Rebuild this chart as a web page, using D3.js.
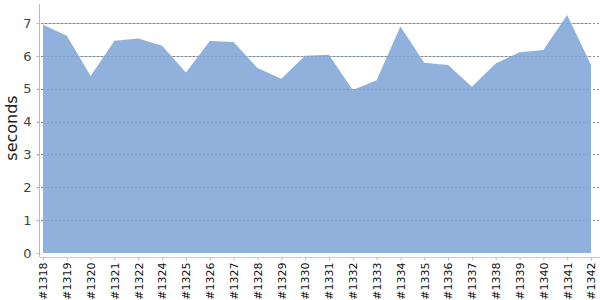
<!DOCTYPE html>
<html>
<head>
<meta charset="utf-8">
<script src="https://cdn.jsdelivr.net/npm/d3@7"></script>
<style>
  body { margin: 0; background: #fff; }
  svg { display: block; font-family: "DejaVu Sans", sans-serif; }
</style>
</head>
<body>
<div id="chart"></div>
<script>
// build ids along the x axis
const builds = ["#1318", "#1319", "#1320", "#1321", "#1322", "#1324", "#1325", "#1326",
    "#1327", "#1328", "#1329", "#1330", "#1331", "#1332", "#1333", "#1334",
    "#1335", "#1336", "#1337", "#1338", "#1339", "#1340", "#1341", "#1342"];

// duration per build, seconds
const seconds = [6.95, 6.61, 5.39, 6.46, 6.53, 6.31, 5.49, 6.45,
    6.42, 5.63, 5.30, 6.00, 6.03, 4.96, 5.26, 6.89,
    5.79, 5.72, 5.06, 5.77, 6.11, 6.18, 7.24, 5.72];

const yTicks = [0, 1, 2, 3, 4, 5, 6, 7];

document.addEventListener('DOMContentLoaded', function() {
    const width = 600, height = 300;
    const margin = { left: 40, right: 9, top: 4, bottom: 47 };

    const svg = d3.select('#chart').append('svg')
        .attr('width', width)
        .attr('height', height);

    const x = d3.scalePoint()
        .domain(builds)
        .range([43, width - margin.right]);

    const y = d3.scaleLinear()
        .domain([0, 7])
        .range([253, 23]);

    // dashed grid lines
    svg.append('g')
        .selectAll('line')
        .data(yTicks.slice(1))
        .enter().append('line')
        .attr('x1', 37)
        .attr('x2', width)
        .attr('y1', d => Math.round(y(d)) + 0.5)
        .attr('y2', d => Math.round(y(d)) + 0.5)
        .attr('stroke', '#888')
        .attr('stroke-dasharray', '2,2');

    const area = d3.area()
        .x((d, i) => x(builds[i]))
        .y0(y(0))
        .y1(d => y(d));

    svg.append('path')
        .datum(seconds)
        .attr('d', area)
        .attr('fill', '#8fb1db');

    // redraw grid faintly over the area
    svg.append('g')
        .selectAll('line')
        .data(yTicks.slice(1))
        .enter().append('line')
        .attr('x1', 43)
        .attr('x2', x(builds[builds.length - 1]))
        .attr('y1', d => Math.round(y(d)) + 0.5)
        .attr('y2', d => Math.round(y(d)) + 0.5)
        .attr('stroke', '#7a96bb')
        .attr('stroke-dasharray', '2,2')
        .attr('opacity', 0.6);

    // y axis
    const yAxis = svg.append('g')
        .attr('transform', 'translate(39.5,0)')
        .call(d3.axisLeft(y).tickValues(yTicks).tickFormat(d3.format('d')).tickSize(3).tickPadding(5));
    yAxis.select('.domain').attr('stroke', '#bbb').attr('d', `M0,${margin.top}V${height - margin.bottom + 4}`);
    yAxis.selectAll('.tick line').attr('stroke', '#bbb');
    yAxis.selectAll('.tick text')
        .attr('fill', '#444')
        .style('font-size', '13px')
        .style('font-family', '"DejaVu Sans", sans-serif');

    // x axis
    const xAxis = svg.append('g')
        .attr('transform', 'translate(0,257.5)')
        .call(d3.axisBottom(x).tickSize(3).tickSizeOuter(0));
    xAxis.select('.domain').attr('stroke', '#ccc').attr('d', `M40,0H${width}`);
    xAxis.selectAll('.tick line').attr('stroke', '#bbb');
    xAxis.selectAll('.tick text')
        .attr('fill', '#111')
        .style('font-size', '11px')
        .style('font-family', '"DejaVu Sans", sans-serif')
        .attr('text-anchor', 'end')
        .attr('transform', 'rotate(-90)')
        .attr('x', -5)
        .attr('y', 0)
        .attr('dy', '0.35em');

    svg.append('text')
        .attr('transform', 'translate(17,128) rotate(-90)')
        .attr('text-anchor', 'middle')
        .attr('fill', '#222')
        .style('font-size', '16px')
        .style('font-family', '"DejaVu Sans", sans-serif')
        .text('seconds');
});
</script>
</body>
</html>
